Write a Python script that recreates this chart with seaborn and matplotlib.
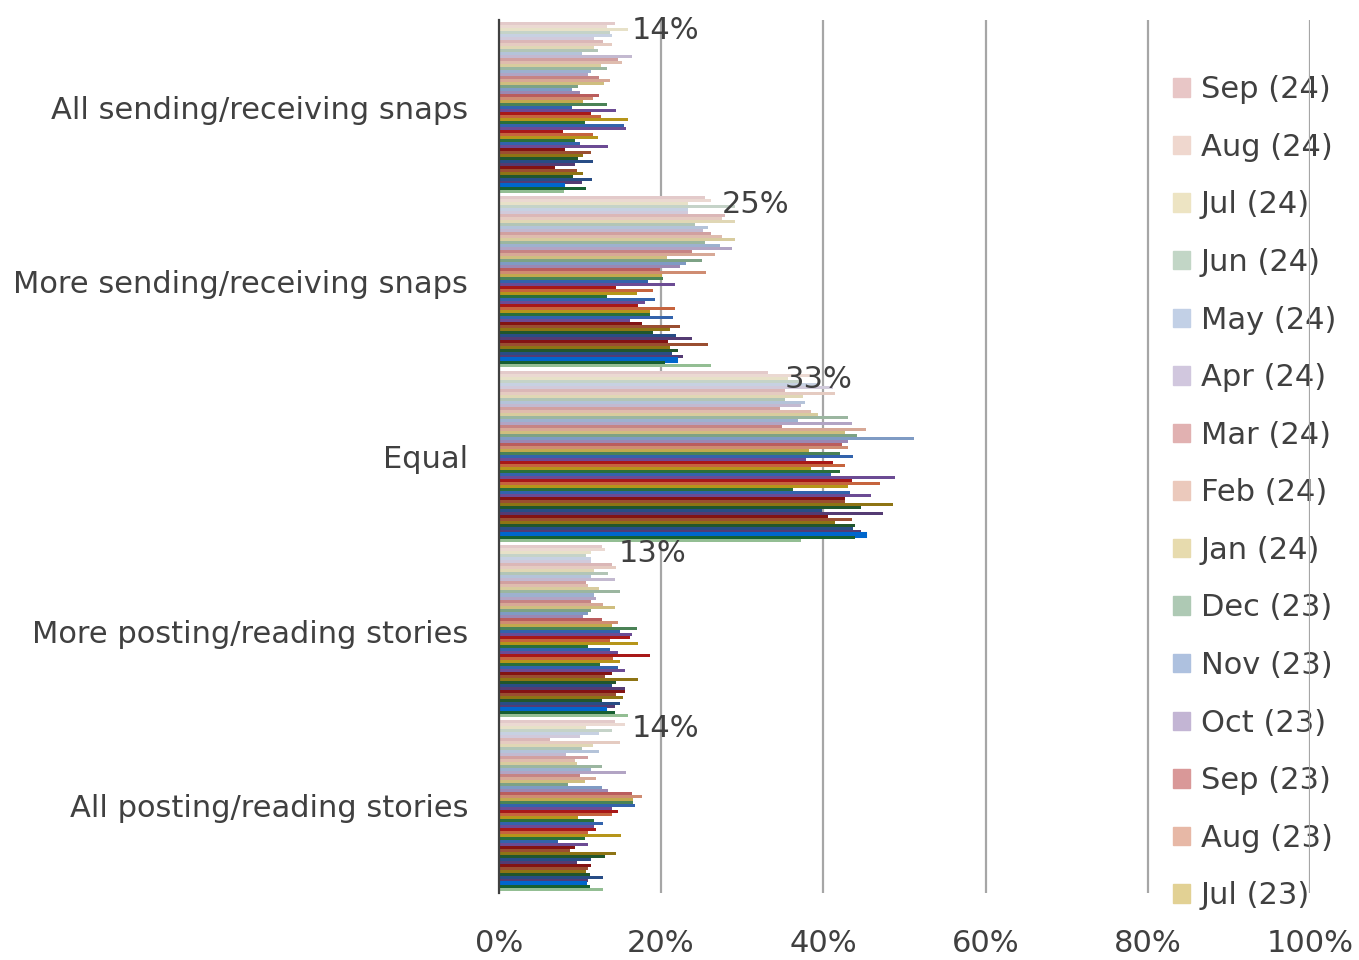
import numpy as np
import pandas as pd
import matplotlib.pyplot as plt
import seaborn as sns
from matplotlib.colors import to_rgb
from matplotlib.patches import Patch

# categories, top to bottom
categories = [
    "All sending/receiving snaps",
    "More sending/receiving snaps",
    "Equal",
    "More posting/reading stories",
    "All posting/reading stories",
]

# series: newest month first (Sep 24 ... Jan 20)
month_names = ["Jan", "Feb", "Mar", "Apr", "May", "Jun",
               "Jul", "Aug", "Sep", "Oct", "Nov", "Dec"]
series = [f"{m} ({y})" for y in [20, 21, 22, 23, 24] for m in month_names]
series = series[:57][::-1]

# percentages, same order as series (newest first)
snaps_all = [
    14.3, 13.3, 15.9, 13.7, 13.9, 11.8, 12.8, 14.0, 11.8, 12.2,
    10.2, 16.4, 14.7, 15.2, 12.6, 13.3, 11.4, 11.0, 12.4, 13.7,
    13.0, 9.8, 9.0, 10.0, 12.4, 11.6, 10.4, 13.3, 9.0, 14.5,
    11.4, 12.6, 15.9, 10.6, 15.4, 15.7, 7.9, 11.6, 12.2, 9.4,
    10.0, 13.5, 8.2, 11.4, 10.4, 9.8, 11.6, 9.4, 6.9, 9.6,
    10.4, 9.2, 11.5, 10.2, 7.9, 10.8, 8.0,
]
snaps_more = [
    25.4, 26.2, 23.3, 29.1, 23.3, 23.3, 27.9, 27.5, 29.1, 24.2,
    25.8, 25.2, 26.2, 27.5, 29.1, 25.4, 27.3, 28.7, 23.8, 26.6,
    20.7, 25.0, 23.1, 22.3, 19.9, 25.6, 20.1, 20.3, 18.4, 21.7,
    14.5, 19.0, 17.0, 13.3, 19.2, 18.0, 17.2, 21.7, 18.6, 18.6,
    21.5, 16.2, 17.6, 22.3, 21.1, 19.0, 21.9, 23.8, 20.9, 25.8,
    21.1, 22.1, 21.3, 22.7, 21.9, 20.5, 26.2,
]
equal = [
    33.2, 38.5, 35.7, 37.3, 39.4, 41.2, 35.3, 41.4, 37.5, 35.3,
    37.7, 37.3, 34.7, 38.5, 39.4, 43.1, 36.9, 43.5, 34.9, 45.3,
    42.7, 44.1, 51.2, 43.1, 42.3, 43.1, 38.3, 42.1, 43.7, 37.9,
    41.2, 42.7, 38.5, 42.1, 41.0, 48.8, 43.5, 47.0, 43.1, 36.3,
    43.3, 45.9, 42.7, 42.7, 48.6, 44.7, 39.8, 47.4, 40.6, 43.5,
    41.4, 43.9, 43.7, 44.7, 45.1, 43.9, 37.3,
]
stories_more = [
    12.7, 13.1, 11.4, 10.8, 11.4, 11.4, 13.9, 14.5, 11.8, 13.5,
    11.4, 14.3, 10.8, 11.0, 12.3, 14.9, 11.8, 12.0, 11.4, 12.9,
    14.3, 11.4, 11.0, 10.4, 12.7, 14.7, 13.9, 17.0, 14.9, 16.4,
    16.2, 13.7, 17.2, 11.0, 13.7, 14.7, 18.6, 14.1, 14.9, 12.5,
    14.7, 15.5, 13.9, 13.1, 17.2, 14.5, 13.9, 15.5, 15.5, 14.5,
    15.3, 12.7, 14.9, 14.3, 13.1, 14.3, 15.9,
]
stories_all = [
    14.3, 15.5, 10.8, 13.9, 12.3, 10.0, 6.3, 14.9, 11.6, 10.2,
    12.3, 8.3, 11.0, 9.4, 9.6, 12.7, 11.4, 15.7, 10.0, 12.0,
    10.6, 8.5, 12.7, 13.5, 16.4, 17.6, 16.6, 16.6, 16.8, 13.9,
    14.7, 13.9, 9.8, 11.8, 12.9, 11.8, 12.0, 11.0, 15.1, 10.6,
    7.3, 11.0, 9.4, 8.8, 14.5, 13.1, 11.4, 9.6, 11.4, 11.0,
    10.8, 11.2, 12.9, 11.0, 10.6, 11.2, 12.9,
]

values = [snaps_all, snaps_more, equal, stories_more, stories_all]

rows = []
for cat, vals in zip(categories, values):
    for s, v in zip(series, vals):
        rows.append({"category": cat, "series": s, "value": v})
df = pd.DataFrame(rows)

# colours: six hue cycle, pale (and a bit greyed) for recent months, darker for older ones
base = ["#C00000", "#DC5A28", "#D0A400", "#1F7A32", "#1F5FC0", "#6B3FA0"]
colors = []
for i in range(len(series)):
    c = np.array(to_rgb(base[i % 6]))
    if i < 28:
        t = 0.76 * np.sqrt(1 - i / 28)
        grey = c.mean()
        c = c * (1 - 0.35 * t) + grey * 0.35 * t
        c = c + (1 - c) * t
    elif i >= 42:
        c = c * 0.78
    colors.append(tuple(np.clip(c, 0, 1)))
colors[-3] = to_rgb("#0066CC")
colors[-2] = to_rgb("#0B6B2E")
colors[-1] = to_rgb("#8CC58C")

sns.set_theme(style="white")
plt.rcParams["font.family"] = ["DejaVu Sans"]
text_color = "#404040"
fs = 22

fig = plt.figure(figsize=(13.59, 9.6), dpi=100)
ax = fig.add_axes([0.367, 0.070, 0.597, 0.909])

sns.barplot(data=df, x="value", y="category", hue="series",
            order=categories, hue_order=series, palette=colors,
            orient="h", width=0.98, errorbar=None, linewidth=0,
            legend=False, ax=ax)

# the highlighted (thicker) blue series near the bottom of each group
for p in ax.containers[-3]:
    p.set_edgecolor(colors[-3])
    p.set_linewidth(2.2)

ax.set_xlim(0, 100)
ax.set_ylim(4.5, -0.5)
ax.set_xticks(range(0, 101, 20))
ax.set_xticklabels([f"{v}%" for v in range(0, 101, 20)])
ax.set_xlabel("")
ax.set_ylabel("")
ax.grid(axis="x", color="#A6A6A6", linewidth=1.6)
ax.grid(axis="y", visible=False)
ax.set_axisbelow(True)
for side in ["top", "right", "bottom"]:
    ax.spines[side].set_visible(False)
ax.spines["left"].set_color("#404040")
ax.spines["left"].set_linewidth(1.6)
ax.tick_params(axis="x", length=0, labelsize=fs, labelcolor=text_color, pad=26)
ax.tick_params(axis="y", length=0, labelsize=fs, labelcolor=text_color, pad=22)

# data labels on the newest series only
for p, vals in zip(ax.containers[0], values):
    v = vals[0]
    ax.annotate(f"{round(v)}%", xy=(v, p.get_y() + p.get_height() / 2),
                xytext=(12, -5), textcoords="offset points",
                va="center", ha="left", fontsize=fs, color=text_color)

handles = [Patch(color=colors[i], label=series[i]) for i in range(15)]
leg = ax.legend(handles=handles, loc="upper left",
                bbox_to_anchor=(1158 / 1359, 1 - 60 / 960),
                bbox_transform=fig.transFigure, frameon=False,
                fontsize=fs, handlelength=0.55, handleheight=0.55,
                handletextpad=0.35, labelspacing=0.935, borderpad=0,
                labelcolor=text_color)
leg.set_zorder(0.3)

fig.savefig("out.png", dpi=100)
